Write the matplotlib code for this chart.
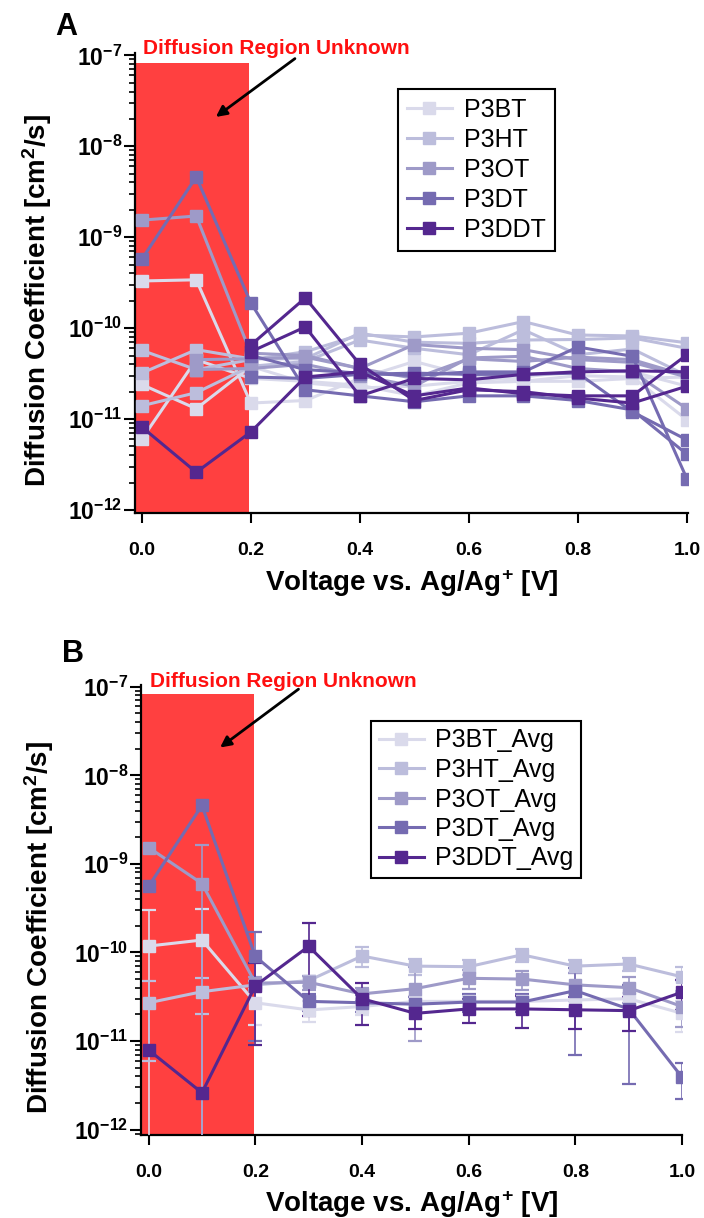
import numpy as np
import matplotlib
matplotlib.use("Agg")
import matplotlib.pyplot as plt
from matplotlib.lines import Line2D
from matplotlib.ticker import LogLocator, FixedLocator, FormatStrFormatter, NullFormatter

nan = np.nan

# ---------------- data ----------------
voltage = [0.0, 0.1, 0.2, 0.3, 0.4, 0.5, 0.6, 0.7, 0.8, 0.9, 1.0]
names = ["P3BT", "P3HT", "P3OT", "P3DT", "P3DDT"]
avg_names = ["P3BT_Avg", "P3HT_Avg", "P3OT_Avg", "P3DT_Avg", "P3DDT_Avg"]

# Panel A: individual runs (cm^2/s)
p3bt_runs = [
    [3.3e-10, 3.4e-10, 1.5e-11, 1.6e-11, 2.8e-11, 4.3e-11, 3.0e-11, 2.6e-11, 2.6e-11, 2.8e-11, 2.9e-11],
    [2.4e-11, 1.3e-11, 3.8e-11, 2.5e-11, 2.2e-11, 2.3e-11, 2.6e-11, 2.9e-11, 3.4e-11, 3.3e-11, 2.3e-11],
    [6.0e-12, 4.5e-11, 2.8e-11, 2.6e-11, 2.35e-11, 1.8e-11, 2.5e-11, 2.6e-11, 3.0e-11, 2.9e-11, 9.8e-12],
]
p3ht_runs = [
    [5.7e-11, 3.5e-11, 4.5e-11, 5.5e-11, 8.4e-11, 8.0e-11, 8.8e-11, 1.18e-10, 8.4e-11, 8.2e-11, 6.9e-11],
    [3.2e-11, 5.8e-11, 4.6e-11, 4.6e-11, 8.8e-11, 7.0e-11, 6.8e-11, 7.4e-11, 7.5e-11, 7.8e-11, 6.0e-11],
    [1.4e-11, 1.95e-11, 3.8e-11, 4.3e-11, 7.4e-11, 6.0e-11, 5.1e-11, 9.6e-11, 5.1e-11, 5.9e-11, 3.0e-11],
]
p3ot_runs = [
    [1.54e-9, 1.71e-9, 5.3e-11, 5.0e-11, 3.6e-11, 6.6e-11, 6.0e-11, 5.8e-11, 4.5e-11, 4.2e-11, 2.9e-11],
    [nan, 4.5e-11, 4.6e-11, 4.8e-11, 3.6e-11, 2.8e-11, 4.6e-11, 4.3e-11, 4.8e-11, 4.5e-11, 3.0e-11],
    [nan, 3.5e-11, 3.6e-11, 4.0e-11, 3.0e-11, 2.3e-11, 4.7e-11, 4.9e-11, 3.6e-11, 3.3e-11, 1.3e-11],
]
p3dt_runs = [
    [5.7e-10, 4.6e-9, 1.9e-10, 2.1e-11, 1.8e-11, 1.55e-11, 1.8e-11, 1.8e-11, 1.6e-11, 1.26e-11, 4.1e-12],
    [nan, nan, 5.0e-11, 3.5e-11, 3.2e-11, 3.0e-11, 3.3e-11, 3.3e-11, 6.2e-11, 4.9e-11, 2.2e-12],
    [nan, nan, 2.9e-11, 2.8e-11, 3.1e-11, 3.2e-11, 3.1e-11, 3.1e-11, 3.2e-11, 1.2e-11, 5.9e-12],
]
p3ddt_runs = [
    [8.2e-12, 2.6e-12, 7.2e-12, 2.9e-11, 3.3e-11, 1.8e-11, 2.2e-11, 1.9e-11, 1.8e-11, 1.8e-11, 5.1e-11],
    [nan, nan, 6.5e-11, 2.15e-10, 4.0e-11, 1.6e-11, 2.1e-11, 2.0e-11, 1.7e-11, 1.5e-11, 2.3e-11],
    [nan, nan, 5.5e-11, 1.03e-10, 1.8e-11, 2.8e-11, 2.7e-11, 3.1e-11, 3.3e-11, 3.4e-11, 3.3e-11],
]

# Panel B: averages and error bars (cm^2/s)
p3bt_avg = [1.18e-10, 1.38e-10, 2.7e-11, 2.24e-11, 2.45e-11, 2.8e-11, 2.8e-11, 2.8e-11, 2.9e-11, 3.0e-11, 2.05e-11]
p3ht_avg = [2.7e-11, 3.6e-11, 4.3e-11, 4.8e-11, 9.1e-11, 7.0e-11, 6.9e-11, 9.4e-11, 7.0e-11, 7.4e-11, 5.3e-11]
p3ot_avg = [1.53e-9, 6.0e-10, 4.5e-11, 4.6e-11, 3.4e-11, 3.9e-11, 5.1e-11, 5.0e-11, 4.3e-11, 4.0e-11, 2.45e-11]
p3dt_avg = [5.6e-10, 4.57e-9, 9.0e-11, 2.8e-11, 2.7e-11, 2.6e-11, 2.75e-11, 2.75e-11, 3.7e-11, 2.3e-11, 3.9e-12]
p3ddt_avg = [7.9e-12, 2.6e-12, 4.2e-11, 1.17e-10, 3.0e-11, 2.05e-11, 2.3e-11, 2.3e-11, 2.25e-11, 2.2e-11, 3.55e-11]

p3bt_err = [1.8e-10, 1.75e-10, 1.2e-11, 6e-12, 5e-12, 4e-12, 4e-12, 4e-12, 5e-12, 5e-12, 8e-12]
p3ht_err = [2.1e-11, 1.6e-11, 5e-12, 6e-12, 2.3e-11, 1.5e-11, 1.4e-11, 1.6e-11, 1.2e-11, 1.2e-11, 1.6e-11]
p3ot_err = [nan, 1.04e-9, 8e-12, 8e-12, 6e-12, 2.9e-11, 1.2e-11, 1.2e-11, 1.5e-11, 1.3e-11, 1.0e-11]
p3dt_err = [nan, nan, 8e-11, 6e-12, 6e-12, 5e-12, 6e-12, 6e-12, 3.0e-11, 1.97e-11, 1.7e-12]
p3ddt_err = [nan, nan, 3.3e-11, 9.8e-11, 1.5e-11, 7e-12, 7e-12, 9e-12, 9e-12, 9e-12, 1.3e-11]

colors = ["#dadaeb", "#bcbddc", "#9e9ac8", "#756bb1", "#54278f"]
red = "#ff4040"

runs_all = [p3bt_runs, p3ht_runs, p3ot_runs, p3dt_runs, p3ddt_runs]
avg_all = [p3bt_avg, p3ht_avg, p3ot_avg, p3dt_avg, p3ddt_avg]
err_all = [p3bt_err, p3ht_err, p3ot_err, p3dt_err, p3ddt_err]

# ---------------- style ----------------
plt.rcParams["font.family"] = ["Liberation Sans", "DejaVu Sans"]
plt.rcParams["font.weight"] = "bold"
plt.rcParams["mathtext.fontset"] = "custom"
plt.rcParams["mathtext.rm"] = "Liberation Sans:bold"
plt.rcParams["mathtext.bf"] = "Liberation Sans:bold"
plt.rcParams["mathtext.it"] = "Liberation Sans:bold"
plt.rcParams["mathtext.default"] = "rm"

W, H = 704, 1218
fig = plt.figure(figsize=(W / 100, H / 100), dpi=100)

LW = 2.2
MS = 9.0
XTICK_FS = 14
YTICK_FS = 16.5
LABEL_FS = 20
LEG_FS = 18


def px_axes(left, top, right, bottom):
    return fig.add_axes([left / W, 1 - bottom / H, (right - left) / W, (bottom - top) / H])


def style_axes(ax, box, xlim, ylim, region_right, region_top, arrow_start, arrow_tip,
               text_pos, ylabel_center_px, ylabel_right_px, xlabel_pad):
    left, top, right, bottom = box
    ax.set_yscale("log")
    ax.set_xlim(*xlim)
    ax.set_ylim(*ylim)
    for s in ("top", "right"):
        ax.spines[s].set_visible(False)
    for s in ("left", "bottom"):
        ax.spines[s].set_linewidth(1.6)
    ax.yaxis.set_major_locator(LogLocator(base=10, numticks=12))
    ax.yaxis.set_minor_locator(LogLocator(base=10, subs=np.arange(2, 10), numticks=12))
    ax.yaxis.set_minor_formatter(NullFormatter())
    ax.xaxis.set_major_locator(FixedLocator([0.0, 0.2, 0.4, 0.6, 0.8, 1.0]))
    ax.xaxis.set_major_formatter(FormatStrFormatter("%.1f"))
    ax.tick_params(axis="y", which="major", direction="out", length=8, width=1.5,
                   labelsize=YTICK_FS, pad=1)
    ax.tick_params(axis="y", which="minor", direction="out", length=4, width=1.2)
    ax.tick_params(axis="x", which="major", direction="out", length=7, width=1.5,
                   labelsize=XTICK_FS, pad=14)
    ax.fill_between([xlim[0], region_right], [ylim[0], ylim[0]], [region_top, region_top],
                    color=red, lw=0, zorder=0)
    ax.annotate("", xy=arrow_tip, xytext=arrow_start, xycoords="data",
                arrowprops=dict(arrowstyle="-|>", color="black", lw=2.0, mutation_scale=16,
                                shrinkA=0, shrinkB=0), annotation_clip=False, zorder=5)
    ax.text(text_pos[0], text_pos[1], "Diffusion Region Unknown", color="#ff1010",
            fontsize=15, fontweight="bold", ha="left", va="baseline", clip_on=False)
    ax.set_ylabel("Diffusion Coefficient [cm$^{2}$/s]", fontsize=LABEL_FS, fontweight="bold")
    ax.yaxis.set_label_coords((ylabel_right_px - left) / (right - left),
                              (bottom - ylabel_center_px) / (bottom - top))
    ax.set_xlabel("Voltage vs. Ag/Ag$^{+}$ [V]", fontsize=LABEL_FS, fontweight="bold",
                  labelpad=xlabel_pad)


# ---------------- Panel A ----------------
boxA = (135, 53.5, 687.5, 513)
axA = px_axes(*boxA)
for runs, c in zip(runs_all, colors):
    for r in runs:
        axA.plot(voltage, r, color=c, lw=LW, marker="s", ms=MS, mfc=c, mec=c, zorder=3)
style_axes(axA, boxA, (-0.0123, 1.001), (10 ** -12.033, 10 ** -6.98), 0.1974, 8.2e-8,
           (0.281, 9.2e-8), (0.136, 2.1e-8), (0.002, 1.03e-7), 300, 54, 6)

handlesA = [Line2D([], [], color=c, lw=LW, marker="s", ms=MS, mfc=c, mec=c) for c in colors]
legA = axA.legend(handlesA, names, loc="upper left", bbox_to_anchor=(398 / W, 1 - 89 / H),
                  bbox_transform=fig.transFigure, borderaxespad=0, frameon=True, fancybox=False,
                  edgecolor="black", framealpha=1, prop=dict(size=LEG_FS, weight="normal"),
                  handlelength=1.8, handletextpad=0.5, borderpad=0.35, labelspacing=0.24)
legA.get_frame().set_linewidth(1.5)

# ---------------- Panel B ----------------
boxB = (141, 685, 682, 1135)
axB = px_axes(*boxB)
for avg, err, c in zip(avg_all, err_all, colors):
    axB.errorbar(voltage, avg, yerr=err, color=c, ecolor=c, lw=LW, marker="s", ms=MS,
                 mfc=c, mec=c, elinewidth=1.2, capsize=4.7, capthick=1.6, zorder=3)
style_axes(axB, boxB, (-0.0143, 1.0), (10 ** -12.062, 10 ** -6.98), 0.1977, 8.3e-8,
           (0.281, 9.4e-8), (0.134, 2.06e-8), (0.0026, 1.0e-7), 927, 56, 5)

handlesB = [Line2D([], [], color=c, lw=LW, marker="s", ms=MS, mfc=c, mec=c) for c in colors]
legB = axB.legend(handlesB, avg_names, loc="upper left", bbox_to_anchor=(371 / W, 1 - 721 / H),
                  bbox_transform=fig.transFigure, borderaxespad=0, frameon=True, fancybox=False,
                  edgecolor="black", framealpha=1, prop=dict(size=LEG_FS, weight="normal"),
                  handlelength=1.8, handletextpad=0.45, borderpad=0.3, labelspacing=0.22)
legB.get_frame().set_linewidth(1.5)

# panel letters
fig.text(55 / W, 1 - 35 / H, "A", fontsize=22, fontweight="bold", ha="left", va="baseline")
fig.text(62 / W, 1 - 662 / H, "B", fontsize=22, fontweight="bold", ha="left", va="baseline")

fig.savefig("out.png", dpi=100)
